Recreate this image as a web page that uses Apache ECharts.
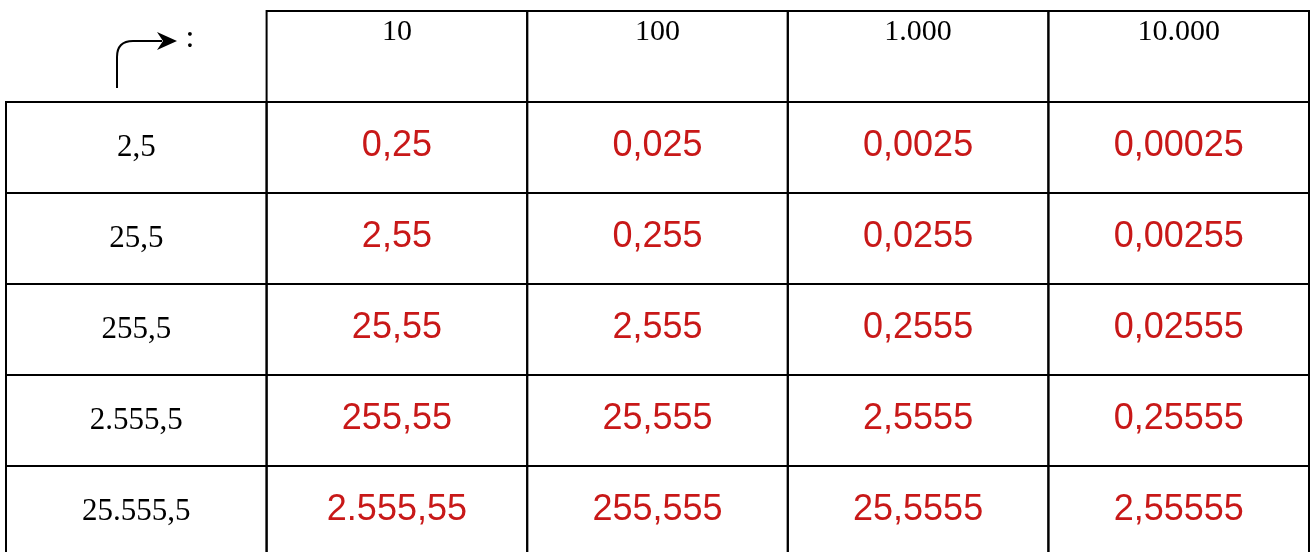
<!DOCTYPE html>
<html>
<head>
<meta charset="utf-8">
<script src="https://cdn.jsdelivr.net/npm/echarts@6/dist/echarts.min.js"></script>
<style>
  html, body { margin: 0; padding: 0; background: #fff; }
  #main { width: 1311px; height: 552px; }
</style>
</head>
<body>
<div id="main"></div>
<script>
// column headers (divisors) and row numbers
var divisors = ['10', '100', '1.000', '10.000'];
var numbers = ['2,5', '25,5', '255,5', '2.555,5', '25.555,5'];
// results, one list per row
var row1 = ['0,25', '0,025', '0,0025', '0,00025'];
var row2 = ['2,55', '0,255', '0,0255', '0,00255'];
var row3 = ['25,55', '2,555', '0,2555', '0,02555'];
var row4 = ['255,55', '25,555', '2,5555', '0,25555'];
var row5 = ['2.555,55', '255,555', '25,5555', '2,55555'];
var results = [row1, row2, row3, row4, row5];

// build the cell list
var cells = [{ col: 0, row: 0, text: '', kind: 'corner' }];
divisors.forEach(function (d, i) {
    cells.push({ col: i + 1, row: 0, text: d, kind: 'head' });
});
numbers.forEach(function (n, r) {
    cells.push({ col: 0, row: r + 1, text: n, kind: 'label' });
    results[r].forEach(function (v, c) {
        cells.push({ col: c + 1, row: r + 1, text: v, kind: 'value' });
    });
});

var myChart = echarts.init(document.getElementById('main'));

function renderCell(params, api) {
    var cell = cells[params.dataIndex];
    var center = api.coord([api.value(0), api.value(1)]);
    var size = api.size([1, 1]);
    var x0 = center[0] - size[0] / 2;
    var y0 = center[1] - size[1] / 2;
    var lineStyle = { stroke: '#000', lineWidth: 2, fill: null };

    if (cell.kind === 'corner') {
        // curved arrow and colon
        return {
            type: 'group',
            children: [
                { type: 'line', shape: { x1: x0 + 111, y1: y0 + 77, x2: x0 + 111, y2: y0 + 46 }, style: lineStyle },
                { type: 'bezierCurve', shape: { x1: x0 + 111, y1: y0 + 46, cpx1: x0 + 111, cpy1: y0 + 30, x2: x0 + 127, y2: y0 + 30 }, style: lineStyle },
                { type: 'line', shape: { x1: x0 + 127, y1: y0 + 30, x2: x0 + 156, y2: y0 + 30 }, style: lineStyle },
                { type: 'polygon', shape: { points: [[x0 + 171, y0 + 30], [x0 + 151, y0 + 21], [x0 + 157, y0 + 30], [x0 + 151, y0 + 39]] }, style: { fill: '#000' } },
                { type: 'text', style: { text: ':', x: x0 + 184, y: y0 + 28, fill: '#000', font: '32px "Liberation Serif", "Times New Roman", serif', align: 'center', verticalAlign: 'middle' } }
            ]
        };
    }

    var textEl;
    if (cell.kind === 'head') {
        textEl = { type: 'text', style: { text: cell.text, x: center[0], y: y0 + 21, fill: '#000', font: '30px "Liberation Serif", "Times New Roman", serif', align: 'center', verticalAlign: 'middle' } };
    } else if (cell.kind === 'label') {
        textEl = { type: 'text', style: { text: cell.text, x: center[0], y: center[1], fill: '#000', font: '31px "Liberation Serif", "Times New Roman", serif', align: 'center', verticalAlign: 'middle' } };
    } else {
        textEl = { type: 'text', style: { text: cell.text, x: center[0], y: center[1] - 1, fill: '#c81818', font: '36px "Liberation Sans", Arial, sans-serif', align: 'center', verticalAlign: 'middle' } };
    }

    return {
        type: 'group',
        children: [
            { type: 'rect', shape: { x: x0, y: y0, width: size[0], height: size[1] }, style: lineStyle },
            textEl
        ]
    };
}

var option = {
    animation: false,
    backgroundColor: '#fff',
    grid: { left: 6, top: 11, width: 1303, height: 546, outerBoundsMode: 'none' },
    xAxis: {
        type: 'category',
        data: ['', ...divisors],
        show: false
    },
    yAxis: {
        type: 'category',
        data: ['', ...numbers],
        inverse: true,
        show: false
    },
    series: [{
        type: 'custom',
        renderItem: renderCell,
        clip: false,
        data: cells.map(function (c) { return [c.col, c.row]; })
    }]
};

myChart.setOption(option);
</script>
</body>
</html>
